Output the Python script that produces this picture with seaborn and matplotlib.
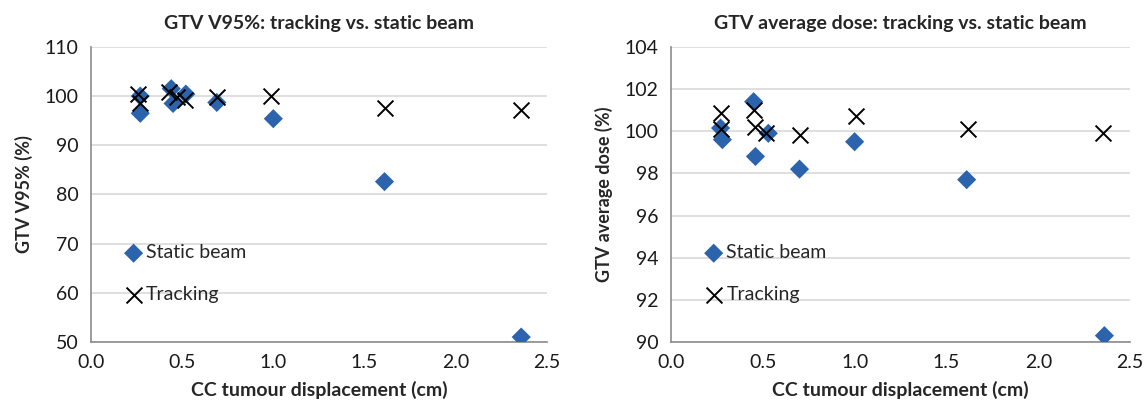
import numpy as np
import pandas as pd
import matplotlib
matplotlib.use("Agg")
import matplotlib.pyplot as plt
import seaborn as sns

# displacement (cm) for each lesion
x_static = [0.27, 0.27, 0.44, 0.45, 0.52, 0.69, 1.00, 1.61, 2.36]
x_tracking = [0.26, 0.27, 0.43, 0.47, 0.515, 0.69, 0.99, 1.61, 2.36]

# GTV V95% (%)
v95_static = [100.0, 96.5, 101.5, 98.5, 100.4, 98.7, 95.4, 82.6, 51.0]
v95_tracking = [100.5, 98.5, 100.8, 99.8, 99.1, 99.8, 100.0, 97.5, 97.1]

# GTV average dose (%)
dose_x_static = [0.27, 0.28, 0.45, 0.46, 0.53, 0.70, 1.00, 1.61, 2.36]
dose_x_tracking = [0.275, 0.27, 0.45, 0.46, 0.52, 0.70, 1.01, 1.62, 2.35]
dose_static = [100.15, 99.6, 101.4, 98.8, 99.9, 98.2, 99.5, 97.7, 90.3]
dose_tracking = [100.85, 100.1, 101.0, 100.2, 99.9, 99.8, 100.7, 100.1, 99.9]

series_labels = ["Static beam", "Tracking"]
blue = "#2B63AC"

sns.set_style("white")
plt.rcParams['font.family'] = ['Lato', 'DejaVu Sans']

fig = plt.figure(figsize=(11.45, 4.15), dpi=100)
ax1 = fig.add_axes([0.0795, 0.176, 0.398, 0.711])
ax2 = fig.add_axes([0.586, 0.176, 0.401, 0.711])

panels = [
    (ax1, x_static, v95_static, x_tracking, v95_tracking,
     "GTV V95%: tracking vs. static beam", "GTV V95% (%)", (50, 110), 10),
    (ax2, dose_x_static, dose_static, dose_x_tracking, dose_tracking,
     "GTV average dose: tracking vs. static beam", "GTV average dose (%)", (90, 104), 2),
]

for ax, xs, ys, xt, yt, title, ylabel, ylim, step in panels:
    sns.scatterplot(x=xs, y=ys, marker="D", s=95, color=blue, edgecolor="none",
                    ax=ax, label=series_labels[0], zorder=3)
    sns.scatterplot(x=xt, y=yt, marker="x", s=130, color="black", linewidth=1.4,
                    ax=ax, label=series_labels[1], zorder=4)
    ax.set_xlim(0, 2.5)
    ax.set_ylim(*ylim)
    ax.set_xticks(np.arange(0, 2.51, 0.5))
    ax.set_xticklabels([f"{v:.1f}" for v in np.arange(0, 2.51, 0.5)])
    ax.set_yticks(np.arange(ylim[0], ylim[1] + 0.1, step))
    ax.yaxis.grid(True, color="#d9d9d9", linewidth=1.2)
    ax.xaxis.grid(False)
    ax.set_axisbelow(True)
    for side in ["top", "right"]:
        ax.spines[side].set_visible(False)
    for side in ["left", "bottom"]:
        ax.spines[side].set_color("#8c8c8c")
        ax.spines[side].set_linewidth(1.2)
    ax.tick_params(axis="both", which="major", direction="out", length=5,
                   width=1.2, color="#8c8c8c", labelsize=14, labelcolor="#1a1a1a", pad=4)
    ax.set_title(title, fontsize=14, fontweight="bold", pad=13)
    ax.set_xlabel("CC tumour displacement (cm)", fontsize=14, fontweight="bold", labelpad=7)
    ax.set_ylabel(ylabel, fontsize=13, fontweight="bold", labelpad=8)
    ax.legend(loc="lower left", bbox_to_anchor=(0.055, 0.107), frameon=False,
              fontsize=14, handlelength=1.0, handletextpad=0.15,
              labelspacing=1.25, borderaxespad=0)

fig.savefig("out.png", dpi=100)
